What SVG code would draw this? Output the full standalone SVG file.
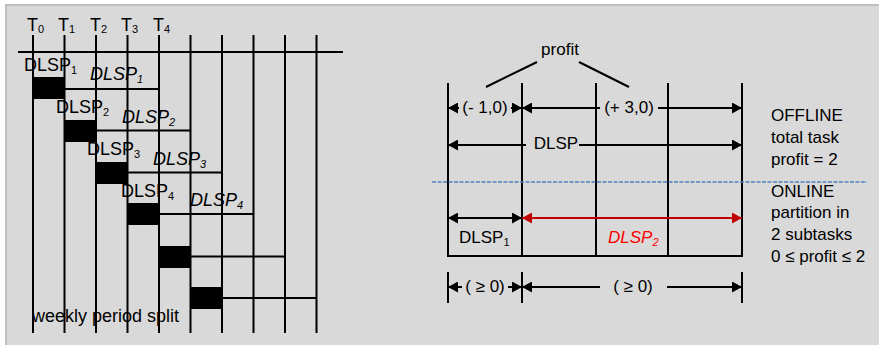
<svg xmlns="http://www.w3.org/2000/svg" width="879" height="345" viewBox="0 0 879 345">
<defs>
<style>
text{font-family:"Liberation Sans",Arial,sans-serif;fill:#000}
.l{font-size:18px}
.r{font-size:17px}
.it{font-style:italic}
.ln{stroke:#000;stroke-width:2;fill:none}
.box{fill:#000}
.sub{font-size:11px}
</style>
<marker id="ah" viewBox="0 0 10 11" refX="10" refY="5.5" markerWidth="10" markerHeight="11" markerUnits="userSpaceOnUse" orient="auto-start-reverse">
<path d="M0,0 L10,5.5 L0,11 z" fill="#000"/>
</marker>
<marker id="ahr" viewBox="0 0 10 11" refX="10" refY="5.5" markerWidth="10" markerHeight="11" markerUnits="userSpaceOnUse" orient="auto-start-reverse">
<path d="M0,0 L10,5.5 L0,11 z" fill="#c00000"/>
</marker>
</defs>
<rect x="0" y="0" width="879" height="345" fill="#ffffff"/>
<rect x="5" y="4" width="874" height="341" fill="#bfbfbf"/>
<rect x="7" y="6" width="872" height="339" fill="#d9d9d9"/>

<g id="left-timeline">
<g id="grid" class="ln">
<line x1="18" y1="52" x2="343" y2="52"/>
<line x1="33" y1="35" x2="33" y2="333"/>
<line x1="64.5" y1="35" x2="64.5" y2="333"/>
<line x1="96" y1="35" x2="96" y2="333"/>
<line x1="127.5" y1="35" x2="127.5" y2="333"/>
<line x1="159" y1="35" x2="159" y2="333"/>
<line x1="190.5" y1="35" x2="190.5" y2="333"/>
<line x1="222" y1="35" x2="222" y2="333"/>
<line x1="253.5" y1="35" x2="253.5" y2="333"/>
<line x1="285" y1="35" x2="285" y2="333"/>
<line x1="316.5" y1="35" x2="316.5" y2="333"/>
</g>
<g id="t-labels" class="l">
<text x="27" y="31">T<tspan class="sub" dy="2">0</tspan></text>
<text x="58" y="31">T<tspan class="sub" dy="2">1</tspan></text>
<text x="90" y="31">T<tspan class="sub" dy="2">2</tspan></text>
<text x="121" y="31">T<tspan class="sub" dy="2">3</tspan></text>
<text x="153" y="31">T<tspan class="sub" dy="2">4</tspan></text>
</g>
<g id="tasks">
<rect class="box" x="33" y="77" width="31.5" height="22"/>
<rect class="box" x="64.5" y="120" width="31.5" height="22"/>
<rect class="box" x="96" y="162" width="31.5" height="22"/>
<rect class="box" x="127.5" y="203" width="31.5" height="22"/>
<rect class="box" x="159" y="246" width="31.5" height="22"/>
<rect class="box" x="190.5" y="287" width="31.5" height="22"/>
<g class="ln">
<line x1="64.5" y1="89" x2="159" y2="89"/>
<line x1="96" y1="130.5" x2="190.5" y2="130.5"/>
<line x1="127.5" y1="172.5" x2="222" y2="172.5"/>
<line x1="159" y1="214" x2="253.5" y2="214"/>
<line x1="190.5" y1="256.5" x2="285" y2="256.5"/>
<line x1="222" y1="298" x2="316.5" y2="298"/>
</g>
</g>
<g id="task-labels" class="l">
<text x="24" y="71">DLSP<tspan class="sub" dy="3">1</tspan></text>
<text x="90" y="80" class="it">DLSP<tspan class="sub" dy="3">1</tspan></text>
<text x="56" y="113">DLSP<tspan class="sub" dy="3">2</tspan></text>
<text x="122" y="123" class="it">DLSP<tspan class="sub" dy="3">2</tspan></text>
<text x="87" y="155">DLSP<tspan class="sub" dy="3">3</tspan></text>
<text x="153" y="165" class="it">DLSP<tspan class="sub" dy="3">3</tspan></text>
<text x="121" y="197">DLSP<tspan class="sub" dy="3">4</tspan></text>
<text x="190" y="206" class="it">DLSP<tspan class="sub" dy="3">4</tspan></text>
<text x="32" y="322">weekly period split</text>
</g>
</g>

<g id="right-diagram">
<g id="frame" class="ln">
<line x1="448" y1="83" x2="448" y2="256"/>
<line x1="522" y1="83" x2="522" y2="256"/>
<line x1="596" y1="83" x2="596" y2="256"/>
<line x1="668" y1="83" x2="668" y2="256"/>
<line x1="742" y1="83" x2="742" y2="256"/>
<line x1="447" y1="256" x2="743" y2="256"/>
<line x1="448" y1="272" x2="448" y2="303"/>
<line x1="522" y1="272" x2="522" y2="303"/>
<line x1="742" y1="272" x2="742" y2="303"/>
<line x1="486" y1="87" x2="537" y2="62"/>
<line x1="579" y1="62" x2="629" y2="87"/>
</g>
<g id="connectors" class="ln">
<line x1="459" y1="108" x2="448" y2="108" marker-end="url(#ah)"/>
<line x1="511" y1="108" x2="522" y2="108" marker-end="url(#ah)"/>
<line x1="600" y1="108" x2="522" y2="108" marker-end="url(#ah)"/>
<line x1="658" y1="108" x2="742" y2="108" marker-end="url(#ah)"/>
<line x1="526" y1="145" x2="448" y2="145" marker-end="url(#ah)"/>
<line x1="579" y1="145" x2="742" y2="145" marker-end="url(#ah)"/>
<line x1="448" y1="218" x2="522" y2="218" marker-start="url(#ah)" marker-end="url(#ah)"/>
<line x1="522" y1="218" x2="742" y2="218" stroke="#c00000" marker-start="url(#ahr)" marker-end="url(#ahr)"/>
<line x1="462" y1="287" x2="448" y2="287" marker-end="url(#ah)"/>
<line x1="508" y1="287" x2="522" y2="287" marker-end="url(#ah)"/>
<line x1="600" y1="287" x2="522" y2="287" marker-end="url(#ah)"/>
<line x1="667" y1="287" x2="742" y2="287" marker-end="url(#ah)"/>
</g>
<line id="divider" x1="432" y1="182" x2="867" y2="182" stroke="#4f81bd" stroke-width="1.5" stroke-dasharray="4 1.5"/>
<g id="right-labels" class="r">
<text x="560" y="55" text-anchor="middle">profit</text>
<text x="485" y="113" text-anchor="middle">(- 1,0)</text>
<text x="629" y="113" text-anchor="middle">(+ 3,0)</text>
<text x="556" y="149" text-anchor="middle">DLSP</text>
<text x="459" y="243">DLSP<tspan class="sub" dy="3">1</tspan></text>
<text x="608" y="243" class="it" fill="#ff0000" style="fill:#ff0000">DLSP<tspan class="sub" dy="3">2</tspan></text>
<text x="485" y="292" text-anchor="middle">( ≥ 0)</text>
<text x="633" y="292" text-anchor="middle">( ≥ 0)</text>
</g>
<g id="side-notes" class="r">
<text x="771" y="121">OFFLINE</text>
<text x="771" y="143">total task</text>
<text x="771" y="165">profit = 2</text>
<text x="771" y="197">ONLINE</text>
<text x="771" y="218">partition in</text>
<text x="771" y="240">2 subtasks</text>
<text x="771" y="262">0 ≤ profit ≤ 2</text>
</g>
</g>
</svg>
